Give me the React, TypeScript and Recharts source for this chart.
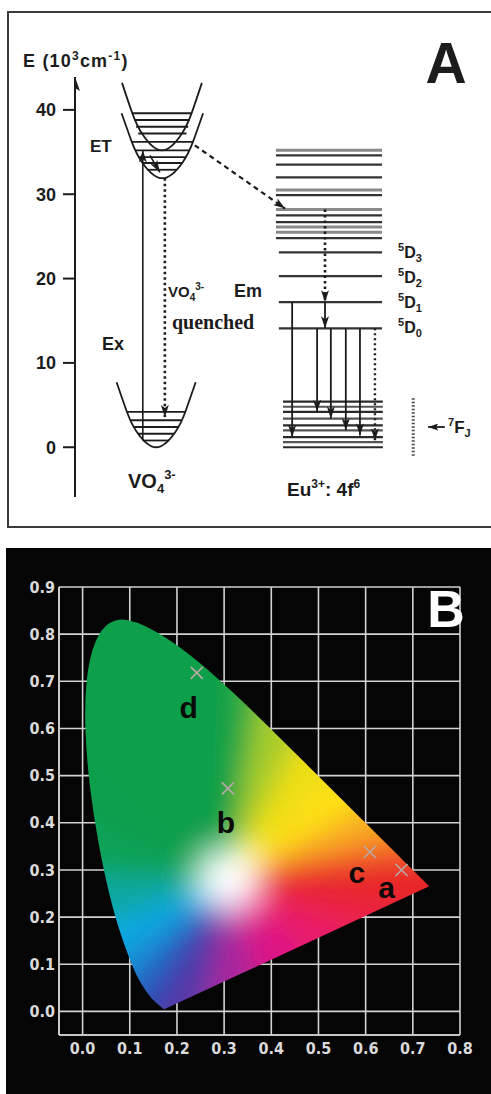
import React from "react";
import { ScatterChart, Scatter, XAxis, YAxis, CartesianGrid } from "recharts";

type Pt = { x: number; y: number };

const SANS = '"Liberation Sans", Arial, Helvetica, sans-serif';
const SERIF = '"Liberation Serif", "Times New Roman", serif';
const COND = '"DejaVu Sans Condensed", "DejaVu Sans", sans-serif';

// ---------- panel A : energy scheme (E in 10^3 cm^-1, x = config. coordinate 0..100) ----------
const energyTicks = [0, 10, 20, 30, 40];

const vo4UpperCurve: Pt[] = [
	{ x: 11.3, y: 43.2 }, { x: 13.7, y: 39.7 }, { x: 16.1, y: 37.2 }, { x: 20.9, y: 35.2 },
	{ x: 25.7, y: 37.2 }, { x: 28.1, y: 39.7 }, { x: 30.5, y: 43.2 },
];
const vo4LowerCurve: Pt[] = [
	{ x: 11.2, y: 39.6 }, { x: 13.65, y: 36.2 }, { x: 16.1, y: 33.8 }, { x: 21.0, y: 31.9 },
	{ x: 25.9, y: 33.8 }, { x: 28.35, y: 36.2 }, { x: 30.8, y: 39.6 },
];
const vo4GroundCurve: Pt[] = [
	{ x: 10.0, y: 7.7 }, { x: 12.4, y: 4.3 }, { x: 14.75, y: 1.9 }, { x: 19.5, y: 0 },
	{ x: 24.25, y: 1.9 }, { x: 26.6, y: 4.3 }, { x: 29.0, y: 7.7 },
];

const vo4ExcitedLevels = [39.6, 38.8, 38.0, 37.2, 36.2, 35.2, 34.4, 33.7, 32.9];
const vo4ExcitedFrom = [13.8, 14.2, 14.7, 15.2, 13.7, 14.6, 15.4, 16.3, 17.5];
const vo4ExcitedTo = [28.0, 27.6, 27.2, 26.8, 28.3, 27.4, 26.6, 25.7, 24.5];

const vo4GroundLevels = [4.2, 3.2, 2.4, 1.6, 0.8];
const vo4GroundFrom = [12.5, 13.4, 14.2, 15.2, 16.4];
const vo4GroundTo = [26.5, 25.6, 24.8, 23.8, 22.6];

const euUpperLevels = [35.2, 34.6, 33.5, 32.0, 30.5, 29.9, 28.2, 27.5, 26.7, 26.1, 25.5, 24.8];
const euDNames = ["3", "2", "1", "0"];
const euDLevels = [23.1, 20.3, 17.2, 14.1];
const euFLevels = [5.4, 4.8, 4.2, 3.4, 2.6, 2.0, 1.2, 0.6, 0];
const euUpperSpan = [48.3, 73.8];
const euDSpan = [49.0, 73.8];
const euFSpan = [50.0, 74.0];

const emissionX = [52.2, 58.2, 61.5, 65.1, 68.5];
const emissionFrom = [17.2, 14.1, 14.1, 14.1, 14.1];
const emissionTo = [1.2, 4.2, 3.4, 2.0, 1.4];
const quenchedEmission: Pt[] = [{ x: 72.1, y: 14.1 }, { x: 72.1, y: 0.8 }];

const excitation: Pt[] = [{ x: 16.3, y: 0.8 }, { x: 16.3, y: 35.2 }];
const relaxation: Pt[] = [{ x: 18.0, y: 34.6 }, { x: 20.4, y: 32.6 }];
const vo4Quench: Pt[] = [{ x: 21.6, y: 31.9 }, { x: 21.6, y: 3.6 }];
const energyTransfer: Pt[] = [{ x: 28.8, y: 35.8 }, { x: 50.5, y: 28.3 }];
const euCascade: Pt[] = [{ x: 60.1, y: 28.2 }, { x: 60.1, y: 17.2 }];
const euD1toD0: Pt[] = [{ x: 60.1, y: 17.2 }, { x: 60.1, y: 14.1 }];
const fjColumn: Pt[] = [{ x: 81.3, y: 5.8 }, { x: 81.3, y: -1.1 }];
const fjPointer: Pt[] = [{ x: 88.9, y: 2.4 }, { x: 84.9, y: 2.4 }];
const axisTip: Pt[] = [{ x: 0, y: 40 }, { x: 0, y: 43.9 }];

// ---------- panel B : CIE 1931 chromaticity ----------
const cieWavelengths = [380, 410, 430, 450, 460, 470, 475, 480, 485, 490, 495, 500, 505, 510, 515, 520, 525, 530, 535, 540, 545, 550, 555, 560, 570, 580, 590, 600, 610, 620, 640, 660, 700];
const cieX = [0.1741, 0.1726, 0.1689, 0.1566, 0.144, 0.1241, 0.1096, 0.0913, 0.0687, 0.0454, 0.0235, 0.0082, 0.0039, 0.0139, 0.0389, 0.0743, 0.1142, 0.1547, 0.1929, 0.2296, 0.2658, 0.3016, 0.3373, 0.3731, 0.4441, 0.5125, 0.5752, 0.627, 0.6658, 0.6915, 0.719, 0.73, 0.7347];
const cieY = [0.005, 0.0048, 0.0069, 0.0177, 0.0297, 0.0578, 0.0868, 0.1327, 0.2007, 0.295, 0.4127, 0.5384, 0.6548, 0.7502, 0.812, 0.8338, 0.8262, 0.8059, 0.7816, 0.7543, 0.7243, 0.6923, 0.6589, 0.6245, 0.5547, 0.4866, 0.4242, 0.3725, 0.334, 0.3083, 0.2809, 0.27, 0.2653];

const sampleNames = ["a", "b", "c", "d"];
const sampleX = [0.676, 0.308, 0.609, 0.242];
const sampleY = [0.3, 0.473, 0.338, 0.718];

const xTicks = [0, 0.1, 0.2, 0.3, 0.4, 0.5, 0.6, 0.7, 0.8];
const yTicks = [0, 0.1, 0.2, 0.3, 0.4, 0.5, 0.6, 0.7, 0.8, 0.9];

const cieLocus = cieWavelengths.map((_, i) => ({ x: cieX[i], y: cieY[i] }));
const samples = sampleNames.map((name, i) => ({ name, x: sampleX[i], y: sampleY[i] }));

// tint of each locus segment (style only), and of the purple line from 700 nm back to 380 nm
const locusTint = [
	"#3a3ca6", "#3a3ca6", "#3540aa", "#3048b2", "#2c58bc", "#2470c8", "#1690d6", "#0ca8e0", "#0aa8a0",
	"#0ca257", "#0e9f4c", "#0e9f4a", "#0e9f4a", "#0e9f4a", "#0e9f4a", "#0e9f4a", "#0e9f4a", "#0e9f4a",
	"#0e9f4a", "#0e9f4a", "#10a048", "#14a247", "#4cb23c", "#a8cc2c", "#ecde16", "#fde012", "#f9b020",
	"#f47a28", "#ee4a2a", "#e8282a", "#e8262a", "#e8262a",
];
const purpleTint = ["#e8262a", "#ea2446", "#e81a6a", "#dc1686", "#a8289c", "#5a38a8"];

const INK = "#1c1c1c";
const noDot = () => <g />;

const toPath = (pts: Pt[]) => pts.map((p, i) => `${i ? "L" : "M"}${p.x},${p.y}`).join(" ");

type SegStyle = { stroke?: string; w?: number; dash?: string; head?: string };

function seg(key: string, pts: Pt[], s: SegStyle = {}) {
	return (
		<Scatter
			key={key}
			data={pts}
			shape={noDot}
			isAnimationActive={false}
			line={(p: any) => (
				<path
					d={toPath(p.points)}
					fill="none"
					stroke={s.stroke ?? INK}
					strokeWidth={s.w ?? 2}
					strokeDasharray={s.dash}
					markerEnd={s.head ? `url(#${s.head})` : undefined}
				/>
			)}
		/>
	);
}

function curve(key: string, pts: Pt[]) {
	return (
		<Scatter
			key={key}
			data={pts}
			shape={noDot}
			isAnimationActive={false}
			line={{ stroke: INK, strokeWidth: 1.8 }}
			lineJointType="natural"
		/>
	);
}

const hline = (key: string, e: number, x1: number, x2: number, s?: SegStyle) =>
	seg(key, [{ x: x1, y: e }, { x: x2, y: e }], s);

const lerp = (a: Pt, b: Pt, t: number) => ({ x: a.x + (b.x - a.x) * t, y: a.y + (b.y - a.y) * t });

function GamutFill({ points }: { points: Pt[] }) {
	const a = 0;
	const b = 15; // 380 nm and 520 nm, used to recover the pixel mapping
	const sx = (points[b].x - points[a].x) / (cieX[b] - cieX[a]);
	const sy = (points[b].y - points[a].y) / (cieY[b] - cieY[a]);
	const px = (x: number) => points[a].x + (x - cieX[a]) * sx;
	const py = (y: number) => points[a].y + (y - cieY[a]) * sy;
	const W = { x: px(0.31), y: py(0.28) };
	const ext = (p: Pt) => lerp(W, p, 1.4);

	// smoothed outline
	const n = points.length;
	let outline = `M${points[0].x},${points[0].y} L${lerp(points[0], points[1], 0.5).x},${lerp(points[0], points[1], 0.5).y}`;
	for (let i = 1; i < n - 1; i++) {
		const m = lerp(points[i], points[i + 1], 0.5);
		outline += ` Q${points[i].x},${points[i].y} ${m.x},${m.y}`;
	}
	outline += ` L${points[n - 1].x},${points[n - 1].y} Z`;

	const wedges: { p: Pt; q: Pt; c: string }[] = [];
	for (let i = 0; i < n - 1; i++) wedges.push({ p: points[i], q: points[i + 1], c: locusTint[i] });
	purpleTint.forEach((c, k) => {
		wedges.push({
			p: lerp(points[n - 1], points[0], k / purpleTint.length),
			q: lerp(points[n - 1], points[0], (k + 1) / purpleTint.length),
			c,
		});
	});

	return (
		<g>
			<defs>
				<clipPath id="gamutClip">
					<path d={outline} />
				</clipPath>
				<filter id="gamutBlur" x="-20%" y="-20%" width="140%" height="140%">
					<feGaussianBlur stdDeviation="12" />
				</filter>
				{wedges.map((w, i) => {
					const m = lerp(w.p, w.q, 0.5);
					const len = Math.hypot(m.x - W.x, m.y - W.y);
					const white = Math.min(0.35, 14 / len);
					const full = Math.min(0.8, 52 / len);
					return (
						<linearGradient key={i} id={`wg${i}`} gradientUnits="userSpaceOnUse" x1={W.x} y1={W.y} x2={m.x} y2={m.y}>
							<stop offset="0" stopColor="#ffffff" />
							<stop offset={white} stopColor="#ffffff" />
							<stop offset={full} stopColor={w.c} />
							<stop offset="1" stopColor={w.c} />
						</linearGradient>
					);
				})}
			</defs>
			<g clipPath="url(#gamutClip)">
				<g filter="url(#gamutBlur)">
					{wedges.map((w, i) => {
						const p = ext(w.p);
						const q = ext(w.q);
						return (
							<path
								key={i}
								d={`M${W.x},${W.y} L${p.x},${p.y} L${q.x},${q.y} Z`}
								fill={`url(#wg${i})`}
								stroke={`url(#wg${i})`}
								strokeWidth={1.5}
							/>
						);
					})}
				</g>
			</g>
		</g>
	);
}

const sampleLabelOffset: Record<string, [number, number]> = {
	a: [-15, 28],
	b: [-2, 45],
	c: [-13, 31],
	d: [-8, 45],
};

function SampleMark(props: any) {
	const { cx, cy, payload } = props;
	const [dx, dy] = sampleLabelOffset[payload.name];
	return (
		<g>
			<path
				d={`M${cx - 6},${cy - 6}L${cx + 6},${cy + 6}M${cx + 6},${cy - 6}L${cx - 6},${cy + 6}`}
				stroke="#b9a9a6"
				strokeWidth={1.6}
			/>
			<text x={cx + dx} y={cy + dy} textAnchor="middle" fontFamily={SANS} fontWeight="bold" fontSize={30} fill="#0a0a0a">
				{payload.name}
			</text>
		</g>
	);
}

function PanelA() {
	const series: React.ReactNode[] = [];
	series.push(curve("up", vo4UpperCurve), curve("low", vo4LowerCurve), curve("gnd", vo4GroundCurve));
	vo4ExcitedLevels.forEach((e, i) => series.push(hline(`ex${i}`, e, vo4ExcitedFrom[i], vo4ExcitedTo[i], { w: 1.8 })));
	vo4GroundLevels.forEach((e, i) => series.push(hline(`gl${i}`, e, vo4GroundFrom[i], vo4GroundTo[i], { w: 1.8 })));
	euUpperLevels.forEach((e, i) =>
		series.push(hline(`eu${i}`, e, euUpperSpan[0], euUpperSpan[1], [0, 4, 6, 9, 10].includes(i) ? { stroke: "#8a8a8a", w: 3 } : { stroke: "#333", w: 2.2 })),
	);
	euDLevels.forEach((e, i) => series.push(hline(`d${i}`, e, euDSpan[0], euDSpan[1], { stroke: "#333", w: 2.2 })));
	euFLevels.forEach((e, i) => series.push(hline(`f${i}`, e, euFSpan[0], euFSpan[1], { stroke: i % 2 ? "#555" : "#2a2a2a", w: 2.2 })));
	emissionX.forEach((x, i) => series.push(seg(`em${i}`, [{ x, y: emissionFrom[i] }, { x, y: emissionTo[i] }], { w: 1.8, head: "headA" })));
	series.push(
		seg("qe", quenchedEmission, { w: 2.4, dash: "2 3", head: "headA" }),
		seg("exc", excitation, { w: 1.6, head: "headA" }),
		seg("rel", relaxation, { w: 1.6, head: "headA" }),
		seg("vq", vo4Quench, { w: 2.6, dash: "2.5 3", head: "headA" }),
		seg("et", energyTransfer, { w: 2.2, dash: "5 4", head: "headA" }),
		seg("casc", euCascade, { w: 2.6, dash: "2.5 3", head: "headA" }),
		seg("d1d0", euD1toD0, { w: 1.8, head: "headA" }),
		seg("fj", fjColumn, { stroke: "#444", w: 3, dash: "1.5 2" }),
		seg("fjp", fjPointer, { w: 1.8, head: "headS" }),
		seg("axis", axisTip, { w: 2, head: "headAxis" }),
	);
	return (
		<ScatterChart width={491} height={540} margin={{ top: 77, right: 0, bottom: 43, left: 0 }}>
			<XAxis type="number" dataKey="x" domain={[0, 100]} hide allowDataOverflow />
			<YAxis
				type="number"
				dataKey="y"
				domain={[-5.9, 43.9]}
				ticks={energyTicks}
				allowDataOverflow
				width={75}
				tickSize={12}
				tickMargin={7}
				axisLine={{ stroke: INK, strokeWidth: 2 }}
				tickLine={{ stroke: INK, strokeWidth: 2 }}
				tick={{ fill: INK, fontSize: 18, fontWeight: "bold", fontFamily: SANS }}
			/>
			{series}
		</ScatterChart>
	);
}

function PanelB() {
	const tickStyle = { fill: "#dadada", fontSize: 16, fontWeight: "bold", fontFamily: COND };
	return (
		<ScatterChart width={491} height={546} margin={{ top: 39, right: 31, bottom: 29, left: 0 }}>
			<CartesianGrid stroke="#d2d2d2" strokeWidth={1.6} />
			<XAxis
				type="number"
				dataKey="x"
				domain={[-0.05, 0.8]}
				ticks={xTicks}
				allowDataOverflow
				height={30}
				tickSize={0}
				tickMargin={8}
				axisLine={{ stroke: "#d2d2d2", strokeWidth: 1.6 }}
				tickLine={false}
				tick={tickStyle}
				tickFormatter={(v: number) => v.toFixed(1)}
			/>
			<YAxis
				type="number"
				dataKey="y"
				domain={[-0.05, 0.9]}
				ticks={yTicks}
				allowDataOverflow
				width={59}
				tickSize={0}
				tickMargin={4}
				axisLine={{ stroke: "#d2d2d2", strokeWidth: 1.6 }}
				tickLine={false}
				tick={tickStyle}
				tickFormatter={(v: number) => v.toFixed(1)}
			/>
			<Scatter
				data={cieLocus}
				shape={noDot}
				isAnimationActive={false}
				line={(p: any) => <GamutFill points={p.points} />}
			/>
			<Scatter data={samples} shape={SampleMark} isAnimationActive={false} />
		</ScatterChart>
	);
}

export default function App() {
	return (
		<div style={{ position: "absolute", left: 0, top: 0, width: 491, height: 1094, overflow: "hidden", background: "#fff" }}>
			<svg width={0} height={0} style={{ position: "absolute" }}>
				<defs>
					<marker id="headA" viewBox="0 0 12 8" refX="12" refY="4" markerWidth="12" markerHeight="8" markerUnits="userSpaceOnUse" orient="auto">
						<path d="M0,0 L12,4 L0,8 L3,4 z" fill={INK} />
					</marker>
					<marker id="headS" viewBox="0 0 10 7" refX="10" refY="3.5" markerWidth="10" markerHeight="7" markerUnits="userSpaceOnUse" orient="auto">
						<path d="M0,0 L10,3.5 L0,7 L2,3.5 z" fill={INK} />
					</marker>
					<marker id="headAxis" viewBox="0 0 14 10" refX="14" refY="5" markerWidth="14" markerHeight="10" markerUnits="userSpaceOnUse" orient="auto">
						<path d="M0,0 L14,5 L0,10 L3,5 z" fill={INK} />
					</marker>
				</defs>
			</svg>
			<div style={{ position: "absolute", left: 7, top: 11, width: 600, height: 517, border: "2px solid #3a3a3a", boxSizing: "border-box" }} />
			<div style={{ position: "absolute", left: 0, top: 0 }}>
				<PanelA />
			</div>
			<svg width={491} height={540} style={{ position: "absolute", left: 0, top: 0 }} fontFamily={SANS} fontWeight="bold" fill={INK}>
				<text x={23} y={67} fontSize={18} letterSpacing={1.2}>
					E (10<tspan dy={-7} fontSize={12}>3</tspan>
					<tspan dy={7}>cm</tspan>
					<tspan dy={-7} fontSize={12}>-1</tspan>
					<tspan dy={7}>)</tspan>
				</text>
				<text x={446} y={83} fontSize={57} textAnchor="middle">A</text>
				<text x={90} y={152} fontSize={17}>ET</text>
				<text x={102} y={350} fontSize={18}>Ex</text>
				<text x={234} y={297} fontSize={18}>Em</text>
				<text x={168} y={297} fontSize={15}>
					VO<tspan dy={4} fontSize={10}>4</tspan>
					<tspan dy={-11} fontSize={10}>3-</tspan>
				</text>
				<text x={172} y={329} fontSize={20} fontFamily={SERIF}>quenched</text>
				<text x={128} y={488} fontSize={20}>
					VO<tspan dy={5} fontSize={13}>4</tspan>
					<tspan dy={-14} fontSize={13}>3-</tspan>
				</text>
				<text x={287} y={496} fontSize={19}>
					Eu<tspan dy={-8} fontSize={12}>3+</tspan>
					<tspan dy={8}>: 4f</tspan>
					<tspan dy={-8} fontSize={12}>6</tspan>
				</text>
				{euDNames.map((n, i) => (
					<text key={n} x={398} y={258 + i * 25} fontSize={16}>
						<tspan dy={-7} fontSize={11}>5</tspan>
						<tspan dy={7}>D</tspan>
						<tspan dy={4} fontSize={11}>{n}</tspan>
					</text>
				))}
				<text x={448} y={433} fontSize={17}>
					<tspan dy={-7} fontSize={11}>7</tspan>
					<tspan dy={7}>F</tspan>
					<tspan dy={4} fontSize={11}>J</tspan>
				</text>
			</svg>
			<div style={{ position: "absolute", left: 6, top: 548, width: 491, height: 546, background: "#050505" }} />
			<div style={{ position: "absolute", left: 0, top: 548 }}>
				<PanelB />
			</div>
			<svg width={491} height={100} style={{ position: "absolute", left: 0, top: 548 }}>
				<text x={446} y={79} fontSize={52} fontFamily={SANS} fontWeight="bold" fill="#fff" textAnchor="middle">B</text>
			</svg>
		</div>
	);
}
